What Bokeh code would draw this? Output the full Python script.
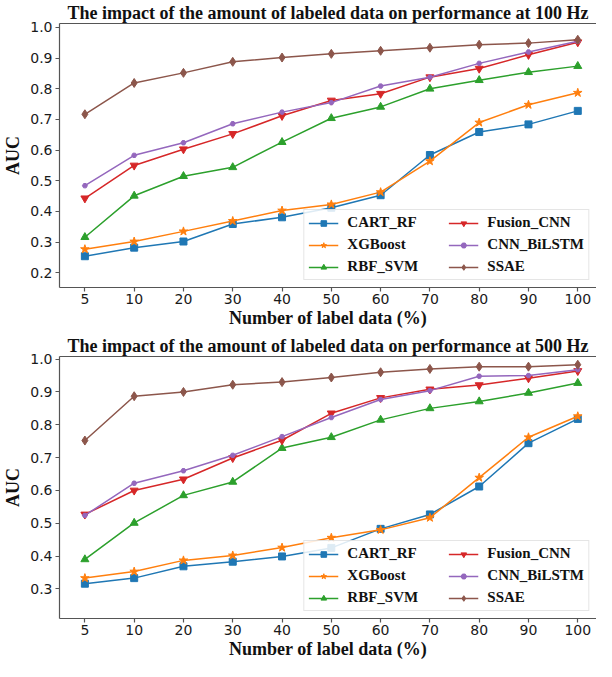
from bokeh.plotting import figure
from bokeh.models import Range1d, FixedTicker, PrintfTickFormatter, LinearAxis, Legend, LegendItem
from bokeh.layouts import column
from bokeh.embed import file_html
from bokeh.resources import INLINE

# ---------------- data ----------------
x_labels = ["5", "10", "20", "30", "40", "50", "60", "70", "80", "90", "100"]
series_names = ["CART_RF", "XGBoost", "RBF_SVM", "Fusion_CNN", "CNN_BiLSTM", "SSAE"]

auc_100_cart_rf = [0.254, 0.282, 0.302, 0.359, 0.381, 0.412, 0.453, 0.584, 0.659, 0.684, 0.728]
auc_100_xgboost = [0.277, 0.302, 0.335, 0.369, 0.403, 0.423, 0.463, 0.564, 0.690, 0.748, 0.787]
auc_100_rbf_svm = [0.316, 0.451, 0.515, 0.544, 0.626, 0.704, 0.741, 0.800, 0.828, 0.854, 0.874]
auc_100_fusion_cnn = [0.443, 0.550, 0.603, 0.653, 0.712, 0.762, 0.784, 0.838, 0.866, 0.911, 0.952]
auc_100_cnn_bilstm = [0.484, 0.583, 0.624, 0.686, 0.724, 0.755, 0.809, 0.838, 0.883, 0.920, 0.955]
auc_100_ssae = [0.717, 0.819, 0.852, 0.888, 0.902, 0.914, 0.924, 0.934, 0.944, 0.949, 0.960]

auc_500_cart_rf = [0.316, 0.333, 0.369, 0.383, 0.399, 0.425, 0.483, 0.527, 0.612, 0.744, 0.818]
auc_500_xgboost = [0.333, 0.353, 0.387, 0.402, 0.426, 0.456, 0.480, 0.517, 0.639, 0.762, 0.826]
auc_500_rbf_svm = [0.390, 0.501, 0.585, 0.626, 0.729, 0.762, 0.815, 0.850, 0.871, 0.897, 0.927]
auc_500_fusion_cnn = [0.527, 0.600, 0.634, 0.699, 0.753, 0.835, 0.882, 0.908, 0.921, 0.942, 0.964]
auc_500_cnn_bilstm = [0.524, 0.622, 0.660, 0.707, 0.764, 0.822, 0.877, 0.904, 0.948, 0.950, 0.968]
auc_500_ssae = [0.752, 0.887, 0.900, 0.922, 0.930, 0.944, 0.960, 0.970, 0.977, 0.977, 0.983]

y_ticks_100 = [0.2, 0.3, 0.4, 0.5, 0.6, 0.7, 0.8, 0.9, 1.0]
y_ticks_500 = [0.3, 0.4, 0.5, 0.6, 0.7, 0.8, 0.9, 1.0]

title_100 = "The impact of the amount of labeled data on performance at 100 Hz"
title_500 = "The impact of the amount of labeled data on performance at 500 Hz"
x_title = "Number of label data (%)"
y_title = "AUC"

# ---------------- styles ----------------
colors = ["#1f77b4", "#ff7f0e", "#2ca02c", "#d62728", "#9467bd", "#8c564b"]
markers = ["square", "star", "triangle", "inverted_triangle", "hex", "diamond"]
msizes = [7, 9, 8, 8, 5, 9]
SERIF = "Liberation Serif"
SANS = "DejaVu Sans"
SPINE = "#555555"


def make_panel(title, series, y_start, y_end, y_ticks, height, top_border, bottom_border):
    x_idx = list(range(len(x_labels)))
    p = figure(width=596, height=height, output_backend="svg", toolbar_location=None,
               x_range=Range1d(-0.515, 10.38), y_range=Range1d(y_start, y_end),
               min_border_left=52, min_border_right=0,
               min_border_top=top_border, min_border_bottom=bottom_border)
    p.outline_line_color = None
    p.grid.visible = False
    p.background_fill_color = "white"
    p.border_fill_color = "white"

    xax = p.below[0]
    yax = p.left[0]

    p.title.text = title
    p.title.align = "center"
    p.title.text_font = SERIF
    p.title.text_font_style = "bold"
    p.title.text_font_size = "18px"
    p.title.text_color = "#111111"
    p.title.standoff = 1

    for ax in (xax, yax):
        ax.axis_line_color = SPINE
        ax.axis_line_width = 1.2
        ax.major_tick_line_color = SPINE
        ax.major_tick_line_width = 1.2
        ax.major_tick_out = 4
        ax.major_tick_in = 0
        ax.minor_tick_out = 0
        ax.minor_tick_in = 0
        ax.major_label_text_font = SANS
        ax.major_label_text_font_size = "14px"
        ax.major_label_text_color = "#1a1a1a"
        ax.axis_label_text_font = SERIF
        ax.axis_label_text_font_style = "bold"
        ax.axis_label_text_font_size = "18px"
        ax.axis_label_text_color = "#111111"

    xax.ticker = FixedTicker(ticks=x_idx)
    xax.major_label_overrides = {i: lab for i, lab in enumerate(x_labels)}
    xax.major_label_standoff = 2
    xax.axis_label = x_title
    xax.axis_label_standoff = 1

    yax.ticker = FixedTicker(ticks=y_ticks)
    yax.formatter = PrintfTickFormatter(format="%.1f")
    yax.major_label_standoff = 3
    yax.axis_label = y_title
    yax.axis_label_standoff = 4

    # top spine
    top_ax = LinearAxis(ticker=FixedTicker(ticks=[]), major_label_text_font_size="0px",
                        major_tick_out=0, major_tick_in=0, minor_tick_out=0, minor_tick_in=0,
                        axis_line_color=SPINE, axis_line_width=1.2)
    p.add_layout(top_ax, "above")

    items = []
    for name, vals, c, m, s in zip(series_names, series, colors, markers, msizes):
        lr = p.line(x_idx, vals, line_color=c, line_width=1.5)
        sr = p.scatter(x_idx, vals, marker=m, size=s, fill_color=c, line_color=c, line_width=1)
        items.append(LegendItem(label=name, renderers=[lr, sr]))

    leg = Legend(items=items, location="bottom_right", ncols=2,
                 label_text_font=SERIF, label_text_font_style="bold", label_text_font_size="15px",
                 label_text_color="#111111",
                 glyph_width=30, glyph_height=14, label_standoff=9,
                 label_width=96, label_height=15,
                 spacing=5, padding=4, margin=7,
                 border_line_color="#cccccc", border_line_width=1,
                 background_fill_color="white", background_fill_alpha=0.85)
    p.add_layout(leg)
    return p


p1 = make_panel(title_100,
                [auc_100_cart_rf, auc_100_xgboost, auc_100_rbf_svm,
                 auc_100_fusion_cnn, auc_100_cnn_bilstm, auc_100_ssae],
                0.152, 1.013, y_ticks_100, 330, 21, 43)
p2 = make_panel(title_500,
                [auc_500_cart_rf, auc_500_xgboost, auc_500_rbf_svm,
                 auc_500_fusion_cnn, auc_500_cnn_bilstm, auc_500_ssae],
                0.21, 1.008, y_ticks_500, 331, 26, 41)

layout = column(p1, p2, spacing=0)
open("out.html", "w").write(file_html(layout, INLINE))
